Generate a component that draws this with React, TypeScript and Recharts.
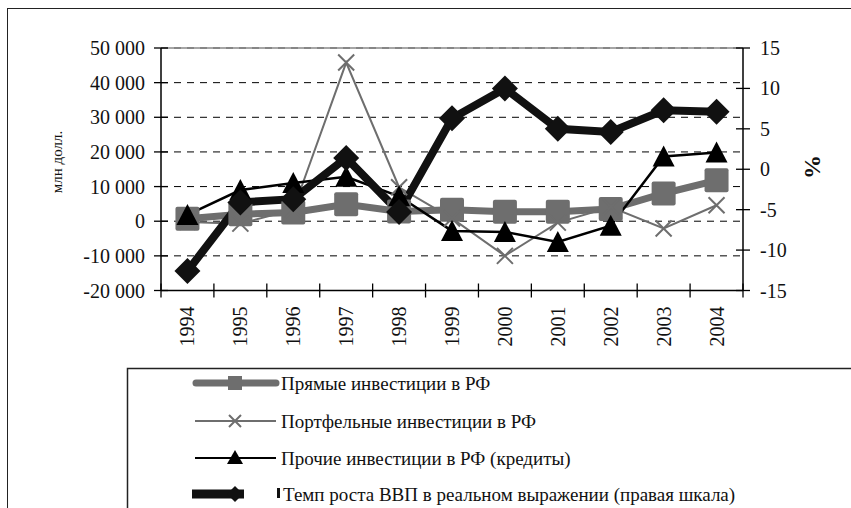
import React from "react";
import { LineChart, Line, XAxis, YAxis, CartesianGrid, ReferenceLine } from "recharts";

const YEARS = ["1994", "1995", "1996", "1997", "1998", "1999", "2000", "2001", "2002", "2003", "2004"];
// млн долл.
const DIRECT = [700, 2000, 2500, 4900, 2800, 3300, 2700, 2700, 3500, 8000, 11800];
const PORTFOLIO = [-200, -700, 3300, 45800, 9800, 800, -10000, -400, 4100, -2100, 4600];
const OTHER = [1800, 9000, 11000, 12800, 7200, -2800, -3100, -6000, -1300, 18700, 19800];
// %, правая шкала
const GDP = [-12.6, -4.1, -3.7, 1.4, -5.3, 6.3, 10.0, 5.0, 4.6, 7.3, 7.1];

const LEFT_TICKS = [-20000, -10000, 0, 10000, 20000, 30000, 40000, 50000];
const RIGHT_TICKS = [-15, -10, -5, 0, 5, 10, 15];

const LEGEND_LABELS = [
  "Прямые инвестиции в РФ",
  "Портфельные инвестиции в РФ",
  "Прочие инвестиции в РФ (кредиты)",
  "Темп роста ВВП в реальном выражении (правая шкала)",
];

const data = YEARS.map((year, i) => ({
  year,
  direct: DIRECT[i],
  portfolio: PORTFOLIO[i],
  other: OTHER[i],
  gdp: GDP[i],
}));

const FONT = "Liberation Serif, Times New Roman, Times, DejaVu Serif, serif";
const GRAY = "#6e6e6e";
const BLACK = "#000";

const PLOT_LEFT = 161;
const PLOT_RIGHT = 743;
const BAND = (PLOT_RIGHT - PLOT_LEFT) / YEARS.length;

const fmt = (v: number) => String(v).replace(/\B(?=(\d{3})+(?!\d))/g, " ");

const LeftTick = (props: any) => {
  const { x, y, payload } = props;
  return (
    <g>
      <line x1={x - 7} x2={x + 7} y1={y} y2={y} stroke={BLACK} strokeWidth={1.3} />
      <text x={x - 16} y={y} textAnchor="end" dominantBaseline="central" fontSize={20} style={{ fontFamily: FONT }} fill="#111">
        {fmt(payload.value)}
      </text>
    </g>
  );
};

const RightTick = (props: any) => {
  const { x, y, payload } = props;
  return (
    <g>
      <line x1={x - 7} x2={x + 7} y1={y} y2={y} stroke={BLACK} strokeWidth={1.3} />
      <text x={x + 17} y={y} textAnchor="start" dominantBaseline="central" fontSize={20} style={{ fontFamily: FONT }} fill="#111">
        {payload.value}
      </text>
    </g>
  );
};

const BottomTick = (props: any) => {
  const { x, y, payload, index } = props;
  return (
    <g>
      <line x1={x - BAND / 2} x2={x - BAND / 2} y1={y - 7} y2={y + 7} stroke={BLACK} strokeWidth={1.3} />
      {index === YEARS.length - 1 && (
        <line x1={x + BAND / 2} x2={x + BAND / 2} y1={y - 7} y2={y + 7} stroke={BLACK} strokeWidth={1.3} />
      )}
      <text
        x={x}
        y={y + 16}
        transform={`rotate(-90 ${x} ${y + 16})`}
        textAnchor="end"
        dominantBaseline="central"
        fontSize={20}
        style={{ fontFamily: FONT }}
        fill="#111"
      >
        {payload.value}
      </text>
    </g>
  );
};

const SquareDot = (p: any) => (
  <rect key={`sq-${p.index}`} x={p.cx - 12} y={p.cy - 12} width={24} height={24} rx={2} fill={GRAY} />
);

const CrossDot = (p: any) => (
  <path
    key={`x-${p.index}`}
    d={`M${p.cx - 8},${p.cy - 8}L${p.cx + 8},${p.cy + 8}M${p.cx - 8},${p.cy + 8}L${p.cx + 8},${p.cy - 8}`}
    stroke={GRAY}
    strokeWidth={2}
    fill="none"
  />
);

const TriangleDot = (p: any) => (
  <path
    key={`tr-${p.index}`}
    d={`M${p.cx},${p.cy - 11}L${p.cx + 11},${p.cy + 10}L${p.cx - 11},${p.cy + 10}Z`}
    fill={BLACK}
  />
);

const DiamondDot = (p: any) => (
  <path
    key={`dm-${p.index}`}
    d={`M${p.cx},${p.cy - 13}L${p.cx + 13},${p.cy}L${p.cx},${p.cy + 13}L${p.cx - 13},${p.cy}Z`}
    fill="#111"
  />
);

const LegendBox = () => {
  const rows = [383, 421, 458, 494];
  const ix = 235;
  return (
    <svg width={851} height={508} style={{ position: "absolute", left: 0, top: 0 }}>
      <path d="M127.5,508 L127.5,368.5 L851,368.5" stroke="#222" strokeWidth={1.5} fill="none" />
      {/* прямые */}
      <line x1={196} x2={276} y1={rows[0]} y2={rows[0]} stroke={GRAY} strokeWidth={7} strokeLinecap="round" />
      <rect x={ix - 7} y={rows[0] - 7} width={14} height={14} fill={GRAY} />
      {/* портфельные */}
      <line x1={195} x2={276} y1={rows[1]} y2={rows[1]} stroke={GRAY} strokeWidth={2} />
      <path
        d={`M${ix - 6},${rows[1] - 6}L${ix + 6},${rows[1] + 6}M${ix - 6},${rows[1] + 6}L${ix + 6},${rows[1] - 6}`}
        stroke={GRAY}
        strokeWidth={2}
      />
      {/* прочие */}
      <line x1={195} x2={276} y1={rows[2]} y2={rows[2]} stroke={BLACK} strokeWidth={2} />
      <path d={`M${ix},${rows[2] - 8}L${ix + 8},${rows[2] + 6}L${ix - 8},${rows[2] + 6}Z`} fill={BLACK} />
      {/* ВВП */}
      <rect x={192} y={rows[3] - 4.5} width={52} height={9} fill="#111" />
      <path d={`M${ix},${rows[3] - 8}L${ix + 8},${rows[3]}L${ix},${rows[3] + 8}L${ix - 8},${rows[3]}Z`} fill="#111" />
      <rect x={277} y={rows[3] - 6} width={3} height={10} fill="#111" />
      {LEGEND_LABELS.map((label, i) => (
        <text
          key={label}
          x={i === 3 ? 283 : 281}
          y={rows[i]}
          dominantBaseline="central"
          fontSize={19}
          style={{ fontFamily: FONT }}
          fill="#111"
        >
          {label}
        </text>
      ))}
    </svg>
  );
};

export default function App() {
  return (
    <div
      style={{
        position: "absolute",
        left: 0,
        top: 0,
        width: 851,
        height: 508,
        background: "#fff",
        overflow: "hidden",
        fontFamily: FONT,
      }}
    >
      <div
        style={{
          position: "absolute",
          left: 7,
          top: 8,
          width: 900,
          height: 600,
          borderLeft: "1.5px solid #222",
          borderTop: "1.5px solid #222",
        }}
      />
      <div style={{ position: "absolute", left: 0, top: 0 }}>
        <LineChart width={851} height={508} data={data} margin={{ top: 48, right: 28, left: 81, bottom: 157.5 }}>
          <CartesianGrid yAxisId="left" vertical={false} stroke={BLACK} strokeDasharray="7 6" strokeWidth={1} />
          <ReferenceLine yAxisId="left" y={50000} stroke="#888" strokeWidth={1.5} />
          <XAxis
            dataKey="year"
            height={60}
            padding={{ left: BAND / 2, right: BAND / 2 }}
            tickSize={0}
            tickMargin={0}
            tickLine={false}
            axisLine={{ stroke: BLACK, strokeWidth: 1.5 }}
            tick={<BottomTick />}
            interval={0}
          />
          <YAxis
            yAxisId="left"
            width={80}
            domain={[-20000, 50000]}
            ticks={LEFT_TICKS}
            interval={0}
            tickSize={0}
            tickMargin={0}
            tickLine={false}
            axisLine={{ stroke: BLACK, strokeWidth: 1.5 }}
            tick={<LeftTick />}
          />
          <YAxis
            yAxisId="right"
            orientation="right"
            width={80}
            domain={[-15, 15]}
            ticks={RIGHT_TICKS}
            interval={0}
            tickSize={0}
            tickMargin={0}
            tickLine={false}
            axisLine={{ stroke: BLACK, strokeWidth: 1.5 }}
            tick={<RightTick />}
          />
          <Line
            yAxisId="left"
            dataKey="direct"
            stroke={GRAY}
            strokeWidth={7}
            dot={SquareDot}
            activeDot={false}
            legendType="none"
            isAnimationActive={false}
          />
          <Line
            yAxisId="left"
            dataKey="portfolio"
            stroke={GRAY}
            strokeWidth={2}
            dot={CrossDot}
            activeDot={false}
            legendType="none"
            isAnimationActive={false}
          />
          <Line
            yAxisId="left"
            dataKey="other"
            stroke={BLACK}
            strokeWidth={2.5}
            dot={TriangleDot}
            activeDot={false}
            legendType="none"
            isAnimationActive={false}
          />
          <Line
            yAxisId="right"
            dataKey="gdp"
            stroke="#111"
            strokeWidth={8}
            dot={DiamondDot}
            activeDot={false}
            legendType="none"
            isAnimationActive={false}
          />
        </LineChart>
      </div>
      <div
        style={{
          position: "absolute",
          left: 57,
          top: 162,
          transform: "translate(-50%, -50%) rotate(-90deg)",
          fontSize: 15,
          color: "#111",
          whiteSpace: "nowrap",
        }}
      >
        млн долл.
      </div>
      <div
        style={{
          position: "absolute",
          left: 812,
          top: 167,
          transform: "translate(-50%, -50%) rotate(-90deg)",
          fontSize: 24,
          fontWeight: "bold",
          color: "#111",
          whiteSpace: "nowrap",
        }}
      >
        %
      </div>
      <LegendBox />
    </div>
  );
}
